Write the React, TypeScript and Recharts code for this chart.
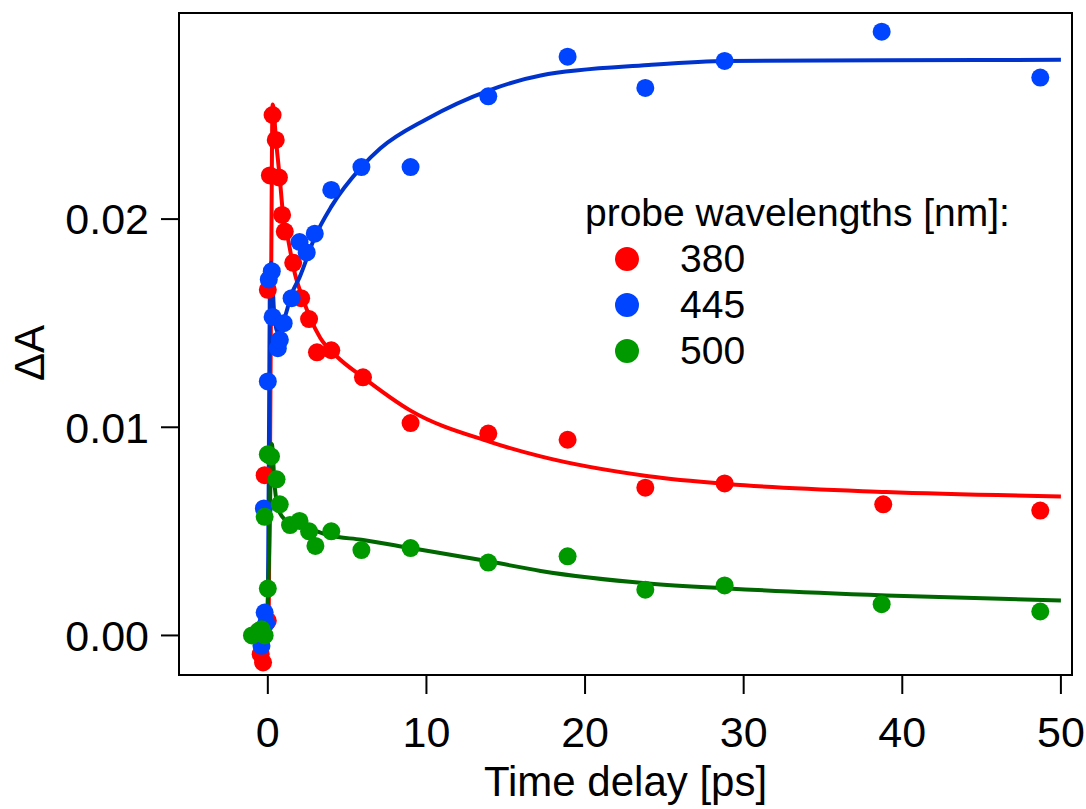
import React from 'react';
import {
  ComposedChart, Scatter, Line, XAxis, YAxis, ReferenceArea,
} from 'recharts';

const t380 = [-0.45, -0.3, 0.0, -0.2, 0.0, 0.13, 0.3, 0.5, 0.7, 0.9, 1.07, 1.6, 2.1, 2.6, 3.1, 4.0, 6.0, 9.0, 13.9, 18.9, 23.8, 28.8, 38.8, 48.7];
const v380 = [-0.0009, -0.0013, 0.0007, 0.0077, 0.0166, 0.0221, 0.025, 0.0238, 0.022, 0.0202, 0.0194, 0.0179, 0.0162, 0.0152, 0.0136, 0.0137, 0.0124, 0.0102, 0.0097, 0.0094, 0.0071, 0.0073, 0.0063, 0.006];

const t445 = [-0.4, -0.2, -0.1, -0.25, 0.0, 0.06, 0.25, 0.3, 0.63, 0.76, 1.0, 1.5, 2.0, 2.45, 2.96, 4.0, 5.9, 9.0, 13.9, 18.9, 23.8, 28.8, 38.7, 48.7];
const v445 = [-0.0005, 0.0011, 0.0006, 0.0061, 0.0122, 0.0171, 0.0175, 0.0153, 0.0138, 0.0142, 0.015, 0.0162, 0.0189, 0.0184, 0.0193, 0.0214, 0.0225, 0.0225, 0.0259, 0.0278, 0.0263, 0.0276, 0.029, 0.0268];

const t500 = [-1.0, -0.6, -0.4, -0.2, 0.0, -0.2, 0.0, 0.2, 0.55, 0.75, 1.4, 2.0, 2.6, 3.0, 4.0, 5.9, 9.0, 13.9, 18.9, 23.8, 28.8, 38.7, 48.7];
const v500 = [0.0, 0.0002, 0.0003, 0.0, 0.00225, 0.0057, 0.0087, 0.0086, 0.0075, 0.0063, 0.0053, 0.0055, 0.005, 0.0043, 0.005, 0.0041, 0.0042, 0.0035, 0.0038, 0.0022, 0.0024, 0.0015, 0.00115];

// fitted curves
const fitT380 = [-0.6, 0.05, 0.2, 0.3, 0.55, 0.75, 0.95, 1.26, 1.7, 2.15, 3.3, 4.35, 6.0, 9.0, 14, 17.2, 24, 29, 39, 50];
const fitV380 = [0, 0.0004, 0.016, 0.0255, 0.0235, 0.022, 0.0203, 0.0191, 0.0174, 0.0163, 0.0143, 0.0134, 0.0124, 0.0108, 0.0093, 0.0086, 0.00765, 0.00727, 0.00689, 0.00668];

const fitT445 = [-0.6, 0.0, 0.12, 0.2, 0.4, 0.6, 0.76, 1.07, 1.5, 2.0, 3.0, 4.0, 5.9, 7.1, 10, 14, 17.2, 24, 29, 39, 50];
const fitV445 = [0, 0.0008, 0.016, 0.0179, 0.0155, 0.0146, 0.0148, 0.0153, 0.0164, 0.0172, 0.0192, 0.0206, 0.0225, 0.0234, 0.0248, 0.0262, 0.0269, 0.0274, 0.0276, 0.02763, 0.02765];

const fitT500 = [-0.6, -0.1, 0.05, 0.25, 0.44, 0.75, 1.4, 2.0, 3.9, 5.9, 9.0, 14, 17.2, 24, 29, 39, 50];
const fitV500 = [-0.0001, 0.0002, 0.003, 0.0092, 0.0071, 0.0059, 0.0054, 0.0053, 0.0048, 0.0046, 0.0042, 0.00355, 0.0031, 0.0025, 0.00226, 0.00192, 0.00168];

const wavelengths = ['380', '445', '500'];
const xTicks = [0, 10, 20, 30, 40, 50];
const yTicks = [0, 0.01, 0.02];

const zip = (ts: number[], vs: number[]) => ts.map((t, i) => ({ t, v: vs[i] }));

const FONT = '"Liberation Sans", Arial, Helvetica, sans-serif';
const dotColors = ['#ff0000', '#0044ff', '#009900'];
const lineColors = ['#ff0000', '#0033cc', '#006600'];

const XMIN = -5.6, XMAX = 50.7, YMIN = -0.0019, YMAX = 0.0299;

const dot = (color: string) => (props: any) => (
  <circle cx={props.cx} cy={props.cy} r={9} fill={color} />
);

function LegendBox() {
  return (
    <div style={{ position: 'absolute', left: 585, top: 190, fontFamily: FONT, fontSize: 39, color: '#000', lineHeight: '46px', whiteSpace: 'nowrap' }}>
      <div>probe wavelengths [nm]:</div>
      {wavelengths.map((w, i) => (
        <div key={w} style={{ display: 'flex', alignItems: 'center' }}>
          <span style={{ display: 'inline-block', width: 24, height: 24, borderRadius: 12, background: dotColors[i], marginLeft: 30, marginRight: 41 }} />
          <span>{w}</span>
        </div>
      ))}
    </div>
  );
}

export default function App() {
  const pts = [zip(t380, v380), zip(t445, v445), zip(t500, v500)];
  const fits = [zip(fitT380, fitV380), zip(fitT445, fitV445), zip(fitT500, fitV500)];

  return (
    <div style={{ position: 'absolute', left: 0, top: 0, width: 1086, height: 809, background: '#fff' }}>
      <ComposedChart width={1086} height={809} margin={{ top: 13, right: 14, bottom: 0, left: 0 }}>
        <XAxis
          type="number" dataKey="t" domain={[XMIN, XMAX]} ticks={xTicks} allowDataOverflow
          height={134} tickSize={19} tickMargin={22}
          axisLine={{ stroke: '#000', strokeWidth: 2 }} tickLine={{ stroke: '#000', strokeWidth: 2 }}
          tick={{ fill: '#000', fontSize: 43, fontFamily: FONT }}
          label={{ value: 'Time delay [ps]', position: 'insideBottom', offset: 13, fill: '#000', fontSize: 42, fontFamily: FONT }}
        />
        <YAxis
          type="number" dataKey="v" domain={[YMIN, YMAX]} ticks={yTicks} allowDataOverflow
          width={179} tickSize={18} tickMargin={12}
          tickFormatter={(v: number) => v.toFixed(2)}
          axisLine={{ stroke: '#000', strokeWidth: 2 }} tickLine={{ stroke: '#000', strokeWidth: 2 }}
          tick={{ fill: '#000', fontSize: 43, fontFamily: FONT }}
          label={{
            content: () => (
              <text x={29} y={353} transform="rotate(-90 29 353)" textAnchor="middle" dominantBaseline="central" fontSize={42} fontFamily={FONT} fill="#000">ΔA</text>
            ),
          }}
        />
        <ReferenceArea x1={XMIN} x2={XMAX} y1={YMIN} y2={YMAX} fill="none" fillOpacity={0} stroke="#000" strokeWidth={2} ifOverflow="visible" />
        {pts.map((d, i) => (
          <Scatter key={'s' + i} name={wavelengths[i]} data={d} fill={dotColors[i]} shape={dot(dotColors[i])} isAnimationActive={false} />
        ))}
        {fits.map((d, i) => (
          <Line key={'l' + i} data={d} dataKey="v" type="monotone" stroke={lineColors[i]} strokeWidth={4} dot={false} activeDot={false} isAnimationActive={false} legendType="none" />
        ))}
      </ComposedChart>
      <LegendBox />
    </div>
  );
}
